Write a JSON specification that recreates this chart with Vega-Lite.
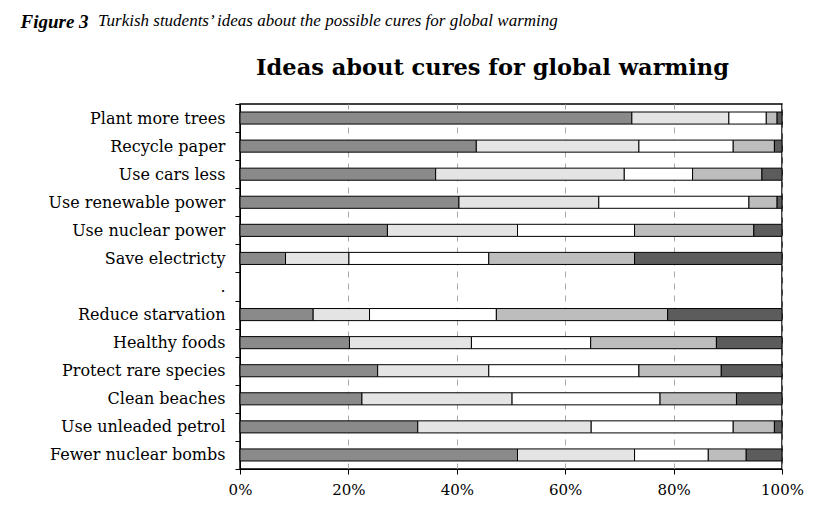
{
  "$schema": "https://vega.github.io/schema/vega-lite/v6.json",
  "autosize": "none",
  "width": 542,
  "height": 365,
  "padding": {"left": 240, "top": 104, "right": 58, "bottom": 55},
  "background": "white",
  "title": {
    "text": "Turkish students’ ideas about the possible cures for global warming",
    "anchor": "start",
    "frame": "bounds",
    "font": "Liberation Serif",
    "fontStyle": "italic",
    "fontWeight": "normal",
    "fontSize": 17,
    "color": "black",
    "dx": 78,
    "offset": -18
  },
  "config": {
    "view": {"stroke": "black", "strokeWidth": 1.5},
    "axis": {"labelFont": "DejaVu Serif", "labelFontSize": 14, "labelColor": "black", "domainColor": "black", "tickColor": "black"}
  },
  "data": {
    "values": [
      {"c": "Plant more trees", "s": 1, "v": 72.3}, {"c": "Plant more trees", "s": 2, "v": 17.9}, {"c": "Plant more trees", "s": 3, "v": 6.9}, {"c": "Plant more trees", "s": 4, "v": 2.0}, {"c": "Plant more trees", "s": 5, "v": 0.9},
      {"c": "Recycle paper", "s": 1, "v": 43.6}, {"c": "Recycle paper", "s": 2, "v": 30.0}, {"c": "Recycle paper", "s": 3, "v": 17.4}, {"c": "Recycle paper", "s": 4, "v": 7.6}, {"c": "Recycle paper", "s": 5, "v": 1.4},
      {"c": "Use cars less", "s": 1, "v": 36.1}, {"c": "Use cars less", "s": 2, "v": 34.8}, {"c": "Use cars less", "s": 3, "v": 12.6}, {"c": "Use cars less", "s": 4, "v": 12.8}, {"c": "Use cars less", "s": 5, "v": 3.7},
      {"c": "Use renewable power", "s": 1, "v": 40.4}, {"c": "Use renewable power", "s": 2, "v": 25.8}, {"c": "Use renewable power", "s": 3, "v": 27.7}, {"c": "Use renewable power", "s": 4, "v": 5.2}, {"c": "Use renewable power", "s": 5, "v": 0.9},
      {"c": "Use nuclear power", "s": 1, "v": 27.2}, {"c": "Use nuclear power", "s": 2, "v": 24.0}, {"c": "Use nuclear power", "s": 3, "v": 21.6}, {"c": "Use nuclear power", "s": 4, "v": 22.0}, {"c": "Use nuclear power", "s": 5, "v": 5.2},
      {"c": "Save electricty", "s": 1, "v": 8.4}, {"c": "Save electricty", "s": 2, "v": 11.7}, {"c": "Save electricty", "s": 3, "v": 25.8}, {"c": "Save electricty", "s": 4, "v": 26.9}, {"c": "Save electricty", "s": 5, "v": 27.2},
      {"c": "Reduce starvation", "s": 1, "v": 13.5}, {"c": "Reduce starvation", "s": 2, "v": 10.4}, {"c": "Reduce starvation", "s": 3, "v": 23.4}, {"c": "Reduce starvation", "s": 4, "v": 31.6}, {"c": "Reduce starvation", "s": 5, "v": 21.1},
      {"c": "Healthy foods", "s": 1, "v": 20.2}, {"c": "Healthy foods", "s": 2, "v": 22.5}, {"c": "Healthy foods", "s": 3, "v": 22.0}, {"c": "Healthy foods", "s": 4, "v": 23.2}, {"c": "Healthy foods", "s": 5, "v": 12.1},
      {"c": "Protect rare species", "s": 1, "v": 25.4}, {"c": "Protect rare species", "s": 2, "v": 20.5}, {"c": "Protect rare species", "s": 3, "v": 27.7}, {"c": "Protect rare species", "s": 4, "v": 15.2}, {"c": "Protect rare species", "s": 5, "v": 11.2},
      {"c": "Clean beaches", "s": 1, "v": 22.5}, {"c": "Clean beaches", "s": 2, "v": 27.7}, {"c": "Clean beaches", "s": 3, "v": 27.3}, {"c": "Clean beaches", "s": 4, "v": 14.1}, {"c": "Clean beaches", "s": 5, "v": 8.4},
      {"c": "Use unleaded petrol", "s": 1, "v": 32.8}, {"c": "Use unleaded petrol", "s": 2, "v": 32.0}, {"c": "Use unleaded petrol", "s": 3, "v": 26.2}, {"c": "Use unleaded petrol", "s": 4, "v": 7.6}, {"c": "Use unleaded petrol", "s": 5, "v": 1.4},
      {"c": "Fewer nuclear bombs", "s": 1, "v": 51.2}, {"c": "Fewer nuclear bombs", "s": 2, "v": 21.6}, {"c": "Fewer nuclear bombs", "s": 3, "v": 13.6}, {"c": "Fewer nuclear bombs", "s": 4, "v": 7.0}, {"c": "Fewer nuclear bombs", "s": 5, "v": 6.6}
    ]
  },
  "mark": {"type": "bar", "height": {"band": 0.43}, "stroke": "black", "strokeWidth": 1},
  "encoding": {
    "y": {
      "field": "c",
      "type": "nominal",
      "scale": {
        "domain": ["Plant more trees", "Recycle paper", "Use cars less", "Use renewable power", "Use nuclear power", "Save electricty", ".", "Reduce starvation", "Healthy foods", "Protect rare species", "Clean beaches", "Use unleaded petrol", "Fewer nuclear bombs"],
        "paddingInner": 0,
        "paddingOuter": 0
      },
      "axis": {
        "title": "Figure 3",
        "titleAngle": 0,
        "titleAlign": "left",
        "titleBaseline": "alphabetic",
        "titleX": -220,
        "titleY": -77,
        "titleFont": "Liberation Serif",
        "titleFontStyle": "italic",
        "titleFontWeight": "bold",
        "titleFontSize": 19,
        "titleColor": "black",
        "tickBand": "extent",
        "tickSize": 5,
        "labelPadding": 10,
        "labelFontSize": 16
      }
    },
    "x": {
      "field": "v",
      "type": "quantitative",
      "stack": "normalize",
      "scale": {"domain": [0, 1], "nice": false},
      "axis": {
        "values": [0, 0.2, 0.4, 0.6, 0.8, 1],
        "format": ".0%",
        "labelFlush": false,
        "grid": true,
        "gridColor": "#a8a8a8",
        "gridDash": [6, 6],
        "tickSize": 5,
        "labelPadding": 8,
        "labelFontSize": 15,
        "title": "Ideas about cures for global warming",
        "titleFont": "DejaVu Serif",
        "titleFontWeight": "bold",
        "titleFontSize": 22.5,
        "titleColor": "black",
        "titleAlign": "center",
        "titleBaseline": "alphabetic",
        "titleX": 252,
        "titleY": -395
      }
    },
    "fill": {
      "field": "s",
      "type": "ordinal",
      "scale": {"domain": [1, 2, 3, 4, 5], "range": ["#8a8a8a", "#e4e4e4", "#ffffff", "#bdbdbd", "#5c5c5c"]},
      "legend": null
    },
    "order": {"field": "s", "type": "quantitative"}
  }
}
